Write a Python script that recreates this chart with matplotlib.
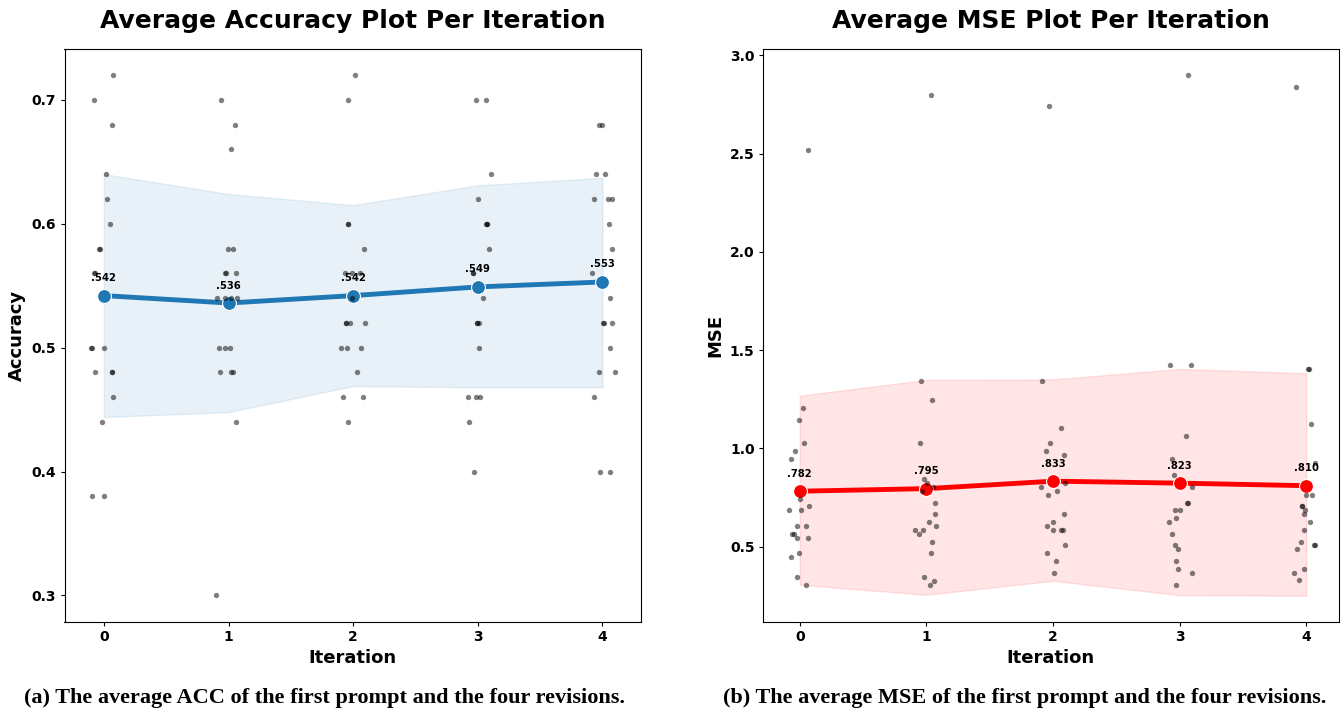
import numpy as np
import matplotlib
matplotlib.use("Agg")
import matplotlib.pyplot as plt

iterations = [0, 1, 2, 3, 4]

# accuracy scores per iteration
acc_scores = [
    [0.70, 0.72, 0.68, 0.64, 0.62, 0.60, 0.58, 0.58, 0.56, 0.56,
     0.50, 0.50, 0.50, 0.48, 0.48, 0.48, 0.46, 0.44, 0.38, 0.38],
    [0.70, 0.68, 0.66, 0.58, 0.58, 0.56, 0.56, 0.56, 0.54, 0.54,
     0.54, 0.54, 0.50, 0.50, 0.50, 0.48, 0.48, 0.48, 0.44, 0.30],
    [0.72, 0.70, 0.60, 0.60, 0.58, 0.56, 0.56, 0.56, 0.54, 0.52,
     0.52, 0.52, 0.52, 0.50, 0.50, 0.50, 0.48, 0.46, 0.46, 0.44],
    [0.70, 0.70, 0.64, 0.62, 0.60, 0.60, 0.60, 0.58, 0.56, 0.56,
     0.54, 0.52, 0.52, 0.52, 0.50, 0.46, 0.46, 0.46, 0.44, 0.40],
    [0.68, 0.68, 0.64, 0.64, 0.62, 0.62, 0.62, 0.60, 0.58, 0.56,
     0.54, 0.52, 0.52, 0.52, 0.50, 0.48, 0.48, 0.46, 0.40, 0.40],
]
# horizontal jitter of each dot, as seen in the picture
acc_jitter = [
    [-0.083, 0.077, 0.069, 0.018, 0.024, 0.051, -0.040, -0.035, -0.078, -0.072,
     -0.104, -0.099, 0.003, -0.070, 0.062, 0.066, 0.077, -0.014, -0.094, 0.003],
    [-0.059, 0.048, 0.019, -0.005, 0.038, -0.028, -0.024, 0.059, -0.091, -0.026,
     0.019, 0.064, -0.080, -0.026, 0.008, -0.072, 0.019, 0.032, 0.062, -0.099],
    [0.018, -0.044, -0.042, -0.040, 0.088, -0.064, -0.010, 0.056, -0.012, -0.056,
     -0.054, -0.024, 0.094, -0.094, -0.046, 0.064, 0.032, -0.078, 0.080, -0.040],
    [-0.016, 0.069, 0.104, 0.002, 0.072, 0.076, 0.068, 0.088, -0.040, -0.036,
     0.042, -0.008, -0.004, 0.010, 0.010, -0.078, -0.016, 0.016, -0.072, -0.027],
    [-0.025, -0.003, -0.054, 0.023, -0.070, 0.047, 0.079, 0.055, 0.077, -0.083,
     0.061, 0.005, 0.009, 0.077, 0.059, -0.025, 0.103, -0.065, -0.019, 0.061],
]
acc_mean = [0.542, 0.536, 0.542, 0.549, 0.553]
acc_low = [0.444, 0.448, 0.469, 0.468, 0.468]
acc_high = [0.640, 0.624, 0.615, 0.631, 0.637]

# MSE per iteration
mse_scores = [
    [2.52, 1.204, 1.143, 1.026, 0.985, 0.944, 0.707, 0.685, 0.685, 0.607,
     0.607, 0.566, 0.566, 0.546, 0.546, 0.467, 0.446, 0.346, 0.306, 0.74],
    [2.80, 1.344, 1.244, 1.026, 0.846, 0.826, 0.804, 0.785, 0.724, 0.665,
     0.624, 0.607, 0.587, 0.587, 0.566, 0.526, 0.467, 0.346, 0.326, 0.306],
    [2.74, 1.344, 1.105, 1.026, 0.985, 0.965, 0.826, 0.805, 0.785, 0.765,
     0.666, 0.624, 0.607, 0.587, 0.587, 0.587, 0.507, 0.467, 0.426, 0.368],
    [2.90, 1.424, 1.424, 1.065, 0.944, 0.865, 0.805, 0.724, 0.724, 0.685,
     0.685, 0.644, 0.624, 0.566, 0.507, 0.487, 0.426, 0.387, 0.368, 0.306],
    [2.84, 1.404, 1.404, 1.126, 0.926, 0.765, 0.765, 0.707, 0.707, 0.685,
     0.666, 0.624, 0.587, 0.526, 0.507, 0.507, 0.487, 0.387, 0.368, 0.328],
]
mse_jitter = [
    [0.068, 0.026, -0.003, 0.034, -0.037, -0.071, 0.074, -0.082, 0.011, -0.024,
     0.050, -0.058, -0.048, -0.021, 0.069, -0.005, -0.066, -0.024, 0.050, 0.000],
    [0.040, -0.045, 0.042, -0.050, -0.021, 0.005, 0.050, -0.034, 0.069, 0.069,
     0.021, 0.074, -0.087, -0.026, -0.061, 0.042, 0.040, -0.018, 0.063, 0.032],
    [-0.030, -0.090, 0.063, -0.024, -0.058, 0.084, 0.095, -0.092, 0.032, -0.037,
     0.090, 0.003, -0.050, 0.000, 0.063, 0.082, 0.092, -0.047, 0.024, 0.005],
    [0.070, -0.079, 0.087, 0.050, -0.061, -0.045, 0.095, 0.066, 0.062, -0.034,
     0.000, -0.026, -0.084, -0.061, -0.034, -0.013, -0.032, -0.016, 0.095, -0.026],
    [-0.080, 0.016, 0.020, 0.040, 0.066, 0.000, 0.042, -0.036, -0.032, -0.013,
     -0.021, 0.026, -0.021, -0.040, 0.064, 0.068, -0.069, -0.018, -0.095, -0.058],
]
mse_mean = [0.782, 0.795, 0.833, 0.823, 0.810]
mse_low = [0.306, 0.255, 0.326, 0.253, 0.250]
mse_high = [1.268, 1.348, 1.351, 1.404, 1.382]


def draw_panel(ax, scores, jitter, means, low, high, color, title, ylabel):
    # spread band first, then the mean line, dots on top
    ax.fill_between(iterations, low, high, color=color, alpha=0.1, lw=1)
    ax.plot(iterations, means, color=color, lw=3.5, marker="o", markersize=10,
            markeredgecolor="white", markeredgewidth=0.8, zorder=3)

    for i, (vals, jit) in enumerate(zip(scores, jitter)):
        xs = np.array(jit) + iterations[i]
        ax.scatter(xs, vals, s=15, color="black", alpha=0.5, linewidths=0, zorder=4)

    for x, m in zip(iterations, means):
        ax.annotate(f".{int(round(m * 1000)):03d}", (x, m), xytext=(0, 9),
                    textcoords="offset points", ha="center", va="bottom",
                    fontsize=7.2, fontweight="bold", zorder=5)

    ax.set_title(title, fontsize=18, fontweight="bold", pad=15)
    ax.set_xlabel("Iteration", fontsize=13, fontweight="bold")
    ax.set_ylabel(ylabel, fontsize=13, fontweight="bold")
    ax.set_xticks(iterations)
    for lab in ax.get_xticklabels() + ax.get_yticklabels():
        lab.set_fontweight("bold")
    ax.tick_params(labelsize=10, length=3, pad=3)


fig = plt.figure(figsize=(13.44, 7.15), dpi=100)
ax1 = fig.add_axes([64.5 / 1344, 1 - 621.5 / 715, 576.5 / 1344, 572.5 / 715])
ax2 = fig.add_axes([763 / 1344, 1 - 621.5 / 715, 575.5 / 1344, 572.5 / 715])

draw_panel(ax1, acc_scores, acc_jitter, acc_mean, acc_low, acc_high,
           "tab:blue", "Average Accuracy Plot Per Iteration", "Accuracy")
ax1.set_xlim(-0.316, 4.309)
ax1.set_ylim(0.279, 0.741)
ax1.set_yticks([0.3, 0.4, 0.5, 0.6, 0.7])

draw_panel(ax2, mse_scores, mse_jitter, mse_mean, mse_low, mse_high,
           "red", "Average MSE Plot Per Iteration", "MSE")
ax2.set_xlim(-0.29, 4.255)
ax2.set_ylim(0.119, 3.032)
ax2.set_yticks([0.5, 1.0, 1.5, 2.0, 2.5, 3.0])

cap = dict(fontsize=16, fontweight="bold", family=["Liberation Serif"],
           ha="center", va="center")
fig.text(324 / 1344, 1 - 698 / 715,
         "(a) The average ACC of the first prompt and the four revisions.", **cap)
fig.text(1025 / 1344, 1 - 698 / 715,
         "(b) The average MSE of the first prompt and the four revisions.", **cap)

fig.savefig("out.png", dpi=100)
